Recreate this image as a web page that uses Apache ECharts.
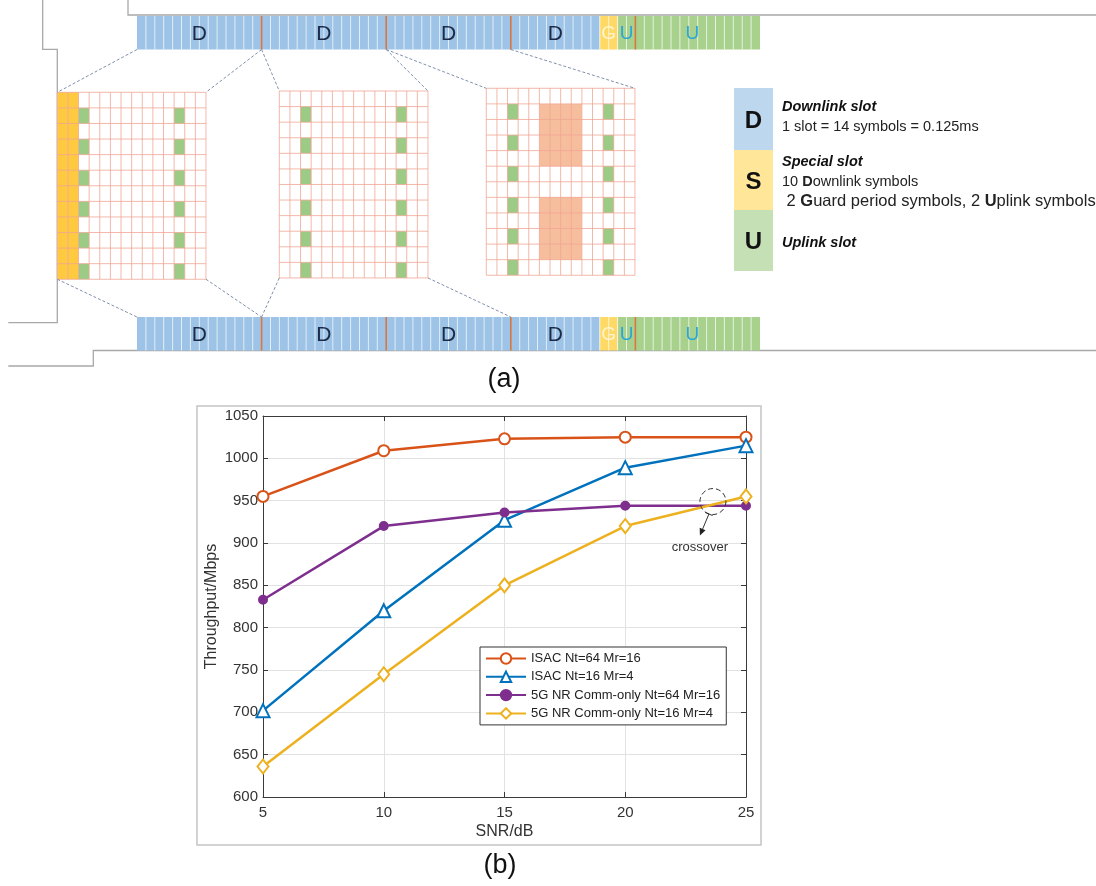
<!DOCTYPE html>
<html><head><meta charset="utf-8">
<script src="https://cdn.jsdelivr.net/npm/echarts@6/dist/echarts.min.js"></script>
<style>html,body{margin:0;padding:0;background:#fff}#c{width:1096px;height:886px}</style>
</head><body><div id="c"></div><script>
// ================= Panel (b) data =================
const snrDb        = [5, 10, 15, 20, 25];
const isacNt64Mr16 = [955, 1009, 1023, 1025, 1025];
const isacNt16Mr4  = [702, 820, 927, 989, 1015];
const nrNt64Mr16   = [833, 920, 936, 944, 944];
const nrNt16Mr4    = [636, 745, 850, 920, 955];
const seriesNames  = ['ISAC Nt=64 Mr=16', 'ISAC Nt=16 Mr=4', '5G NR Comm-only Nt=64 Mr=16', '5G NR Comm-only Nt=16 Mr=4'];
const xTickValues  = [5, 10, 15, 20, 25];
const yTickValues  = [600, 650, 700, 750, 800, 850, 900, 950, 1000, 1050];
const crossoverPoint = [23.63, 949];
const crossoverText  = 'crossover';
const xAxisName = 'SNR/dB';
const yAxisName = 'Throughput/Mbps';

// ================= Panel (a) data =================
const slotTypes          = ['D', 'D', 'D', 'S', 'U'];
const symbolsPerSlot     = 14;
const specialSlotSymbols = ['D','D','D','D','D','D','D','D','D','D','G','G','U','U'];
const gridRows           = 12;
const gridCols           = 14;
const controlCols        = [0, 1];
const dmrsCols           = [2, 11];
const dmrsRows           = [1, 3, 5, 7, 9, 11];
const sensingBlocks      = [[5, 8, 1, 4], [5, 8, 7, 10]];   // colFrom, colTo, rowFrom, rowTo
const gridContents       = [['control', 'dmrs'], ['dmrs'], ['dmrs', 'sensing']];
const topLinks           = [[0, 1], [1, 2], [2, 3]];          // slot boundaries linked to each grid's top corners
const bottomLinks        = [[0, 1], [1, 3], null];
const keyLetters         = ['D', 'S', 'U'];
const keyTitles          = ['Downlink slot', 'Special slot', 'Uplink slot'];
const keyLines           = [['1 slot = 14 symbols = 0.125ms'],
                            ['10 {b|D}ownlink symbols', ' 2 {b|G}uard period symbols, 2 {b|U}plink symbols'],
                            []];
const panelLabels        = ['(a)', '(b)'];

// ================= Layout & style (not data) =================
const FONT = "'Liberation Sans', Arial, Helvetica, sans-serif";
const L = {
  barX0: 137, slotW: 124.6, topBar: [16, 49.5], bottomBar: [317, 350.5],
  gridX: [57.3, 279.3, 486.3], gridY: [92.3, 91, 88.3], cellW: 10.62, cellH: 15.58,
  keyX: 734, keyW: 39, keyY: [88, 150, 210, 271], keyTextX: 782,
  keyTextY: [[107, 127], [162, 182, 201], [243]],
  keyLineFont: [[14.5], [14.5, 16.5], []],
  uLabelShift: -0.6,
  frame: [
    [[128, 0], [128, 15], [1096, 15]],
    [[42.7, 0], [42.7, 49.3], [57.3, 49.3], [57.3, 322.7], [8.3, 322.7]],
    [[1096, 350.5], [93.3, 350.5], [93.3, 366], [8.3, 366]]
  ]
};
const C = {
  barD: '#9DC3E6', barG: '#FFD966', barU: '#A9D18E', slotEdge: '#D9773F',
  letterD: '#1B2A47', letterG: '#FFF4CC', letterU: '#2BA6D6',
  control: '#FFC940', dmrs: '#9CCB86', sensing: '#F7BE9E', gridLine: '#F0A694',
  link: '#7F90AC', frame: '#A8A8A8',
  keyFill: ['#BDD7EE', '#FFE699', '#C5E0B4'],
  s: ['#D95319', '#0072BD', '#7E2F8E', '#EDB120']
};

// ================= helpers =================
function rectEl(api, x0, y0, x1, y1, style) {
  const p0 = api.coord([x0, y0]), p1 = api.coord([x1, y1]);
  return { type: 'rect', shape: { x: Math.min(p0[0], p1[0]), y: Math.min(p0[1], p1[1]),
    width: Math.abs(p1[0] - p0[0]), height: Math.abs(p1[1] - p0[1]) }, style: style };
}
function lineEl(api, x0, y0, x1, y1, style) {
  const p0 = api.coord([x0, y0]), p1 = api.coord([x1, y1]);
  return { type: 'line', shape: { x1: p0[0], y1: p0[1], x2: p1[0], y2: p1[1] }, style: style };
}
function textEl(api, x, y, text, style) {
  const p = api.coord([x, y]);
  return { type: 'text', x: p[0], y: p[1], style: Object.assign({ text: text }, style) };
}

// slot bars (top + bottom)
function renderSlot(params, api) {
  const i = api.value(0), b = api.value(1);
  const type = slotTypes[i];
  const syms = type === 'S' ? specialSlotSymbols : new Array(symbolsPerSlot).fill(type);
  const yr = b === 0 ? L.topBar : L.bottomBar;
  const x0 = L.barX0 + i * L.slotW, w = L.slotW / symbolsPerSlot;
  const fill = { D: C.barD, G: C.barG, U: C.barU };
  const letterColor = { D: C.letterD, G: C.letterG, U: C.letterU };
  const ch = [];
  let runs = [], start = 0;
  for (let j = 1; j <= syms.length; j++) {
    if (j === syms.length || syms[j] !== syms[start]) { runs.push([syms[start], start, j]); start = j; }
  }
  runs.forEach(r => ch.push(rectEl(api, x0 + r[1] * w, yr[0], x0 + r[2] * w, yr[1], { fill: fill[r[0]] })));
  for (let j = 1; j < syms.length; j++) {
    ch.push(lineEl(api, x0 + j * w, yr[0], x0 + j * w, yr[1], { stroke: 'rgba(255,255,255,0.7)', lineWidth: 1 }));
  }
  if (i > 0) ch.push(lineEl(api, x0, yr[0], x0, yr[1], { stroke: C.slotEdge, lineWidth: 1.6 }));
  runs.forEach(r => {
    let cx = (r[1] + r[2]) / 2;
    if (type === 'U') cx += L.uLabelShift;
    ch.push(textEl(api, x0 + cx * w, (yr[0] + yr[1]) / 2 + 1, r[0], {
      fill: letterColor[r[0]], fontSize: r[0] === 'D' ? 21 : 19, fontFamily: FONT,
      align: 'center', verticalAlign: 'middle' }));
  });
  return { type: 'group', children: ch };
}

// resource grids
function renderGrid(params, api) {
  const g = api.value(0);
  const x0 = L.gridX[g], y0 = L.gridY[g], cw = L.cellW, chh = L.cellH;
  const cell = (c1, r1, c2, r2, color) => rectEl(api, x0 + c1 * cw, y0 + r1 * chh, x0 + (c2 + 1) * cw, y0 + (r2 + 1) * chh, { fill: color });
  const ch = [cell(0, 0, gridCols - 1, gridRows - 1, '#FFFFFF')];
  const content = gridContents[g];
  if (content.indexOf('control') >= 0) controlCols.forEach(c => ch.push(cell(c, 0, c, gridRows - 1, C.control)));
  if (content.indexOf('dmrs') >= 0) dmrsCols.forEach(c => dmrsRows.forEach(r => ch.push(cell(c, r, c, r, C.dmrs))));
  if (content.indexOf('sensing') >= 0) sensingBlocks.forEach(s => ch.push(cell(s[0], s[2], s[1], s[3], C.sensing)));
  for (let c = 0; c <= gridCols; c++) ch.push(lineEl(api, x0 + c * cw, y0, x0 + c * cw, y0 + gridRows * chh, { stroke: C.gridLine, lineWidth: 0.8 }));
  for (let r = 0; r <= gridRows; r++) ch.push(lineEl(api, x0, y0 + r * chh, x0 + gridCols * cw, y0 + r * chh, { stroke: C.gridLine, lineWidth: 0.8 }));
  return { type: 'group', children: ch };
}

// dashed links between bars and grids
function renderLinks(params, api) {
  const g = api.value(0);
  const x0 = L.gridX[g], y0 = L.gridY[g];
  const x1 = x0 + gridCols * L.cellW, y1 = y0 + gridRows * L.cellH;
  const st = { stroke: C.link, lineWidth: 1, lineDash: [3, 2] };
  const ch = [];
  const t = topLinks[g], b = bottomLinks[g];
  if (t) {
    ch.push(lineEl(api, L.barX0 + t[0] * L.slotW, L.topBar[1], x0, y0, st));
    ch.push(lineEl(api, L.barX0 + t[1] * L.slotW, L.topBar[1], x1, y0, st));
  }
  if (b) {
    ch.push(lineEl(api, x0, y1, L.barX0 + b[0] * L.slotW, L.bottomBar[0], st));
    ch.push(lineEl(api, x1, y1, L.barX0 + b[1] * L.slotW, L.bottomBar[0], st));
  }
  return { type: 'group', children: ch };
}

// slot-type key
function renderKey(params, api) {
  const k = api.value(0);
  const ch = [rectEl(api, L.keyX, L.keyY[k], L.keyX + L.keyW, L.keyY[k + 1], { fill: C.keyFill[k] })];
  ch.push(textEl(api, L.keyX + L.keyW / 2, (L.keyY[k] + L.keyY[k + 1]) / 2 + 2, keyLetters[k], {
    fill: '#111', fontSize: 24, fontWeight: 'bold', fontFamily: FONT, align: 'center', verticalAlign: 'middle' }));
  const ys = L.keyTextY[k];
  ch.push(textEl(api, L.keyTextX, ys[0], keyTitles[k], {
    fill: '#111', fontSize: 14.5, fontWeight: 'bold', fontStyle: 'italic', fontFamily: FONT, align: 'left', verticalAlign: 'middle' }));
  keyLines[k].forEach((s, n) => {
    const fs = L.keyLineFont[k][n];
    ch.push(textEl(api, L.keyTextX, ys[n + 1], s, {
      fill: '#222', fontSize: fs, fontFamily: FONT, align: 'left', verticalAlign: 'middle',
      rich: { b: { fontWeight: 'bold', fontSize: fs, fontFamily: FONT, fill: '#222' } } }));
  });
  return { type: 'group', children: ch };
}

// page frame lines of panel (a)
function renderFrame(params, api) {
  const pts = L.frame[api.value(0)].map(p => api.coord(p));
  return { type: 'polyline', shape: { points: pts }, style: { stroke: C.frame, lineWidth: 1.3, fill: null } };
}

// crossover annotation
function renderCrossover(params, api) {
  const c = api.coord([api.value(0), api.value(1)]);
  const ax = c[0] - 4, ay = c[1] + 12.5, bx = c[0] - 13, by = c[1] + 34;
  const dx = bx - ax, dy = by - ay, len = Math.sqrt(dx * dx + dy * dy), ux = dx / len, uy = dy / len;
  const hl = 7, hw = 3.2;
  return { type: 'group', children: [
    { type: 'circle', shape: { cx: c[0], cy: c[1], r: 13 }, style: { fill: 'rgba(0,0,0,0)', stroke: '#333', lineWidth: 1, lineDash: [5, 3] } },
    { type: 'line', shape: { x1: ax, y1: ay, x2: bx - ux * hl, y2: by - uy * hl }, style: { stroke: '#333', lineWidth: 1 } },
    { type: 'line', shape: { x1: ax - uy * 4, y1: ay + ux * 4, x2: ax + uy * 4, y2: ay - ux * 4 }, style: { stroke: '#333', lineWidth: 1 } },
    { type: 'polygon', shape: { points: [[bx, by], [bx - ux * hl - uy * hw, by - uy * hl + ux * hw], [bx - ux * hl + uy * hw, by - uy * hl - ux * hw]] }, style: { fill: '#222' } },
    { type: 'text', x: c[0] - 13, y: c[1] + 46, style: { text: crossoverText, fill: '#333', fontSize: 13, fontFamily: FONT, align: 'center', verticalAlign: 'middle' } }
  ] };
}

const axisColor = '#3a3a3a';
const lineSeries = [isacNt64Mr16, isacNt16Mr4, nrNt64Mr16, nrNt16Mr4];
const symbols = ['emptyCircle', 'emptyTriangle', 'circle', 'emptyDiamond'];
const symbolSizes = [11, 13, 8, [11, 14]];

const chart = echarts.init(document.getElementById('c'), null, { renderer: 'canvas' });
chart.setOption({
  animation: false,
  backgroundColor: '#fff',
  textStyle: { fontFamily: FONT },
  grid: [
    { left: 263, top: 416, width: 483, height: 381, containLabel: false },
    { left: 0, top: 0, width: 1096, height: 370, containLabel: false }
  ],
  xAxis: [
    { gridIndex: 0, type: 'value', min: xTickValues[0], max: xTickValues[xTickValues.length - 1], interval: xTickValues[1] - xTickValues[0],
      name: xAxisName, nameLocation: 'middle', nameGap: 27,
      nameTextStyle: { fontSize: 16, color: '#333', fontFamily: FONT },
      axisLine: { show: true, onZero: false, lineStyle: { color: axisColor, width: 1 } },
      axisTick: { show: true, inside: true, length: 5, lineStyle: { color: axisColor } },
      axisLabel: { margin: 8, fontSize: 15, color: '#333', fontFamily: FONT, formatter: v => String(v) },
      splitLine: { show: true, lineStyle: { color: '#E2E2E2', width: 1 } } },
    { gridIndex: 0, type: 'value', position: 'top', min: xTickValues[0], max: xTickValues[xTickValues.length - 1], interval: xTickValues[1] - xTickValues[0],
      axisLine: { show: true, onZero: false, lineStyle: { color: axisColor, width: 1 } },
      axisTick: { show: true, inside: true, length: 5, lineStyle: { color: axisColor } },
      axisLabel: { show: false }, splitLine: { show: false } },
    { gridIndex: 1, type: 'value', min: 0, max: 1096, show: false }
  ],
  yAxis: [
    { gridIndex: 0, type: 'value', min: yTickValues[0], max: yTickValues[yTickValues.length - 1], interval: yTickValues[1] - yTickValues[0],
      name: yAxisName, nameLocation: 'middle', nameGap: 43, nameRotate: 90,
      nameTextStyle: { fontSize: 16, color: '#333', fontFamily: FONT },
      axisLine: { show: true, onZero: false, lineStyle: { color: axisColor, width: 1 } },
      axisTick: { show: true, inside: true, length: 5, lineStyle: { color: axisColor } },
      axisLabel: { margin: 5, fontSize: 15, color: '#333', fontFamily: FONT, formatter: v => String(v) },
      splitLine: { show: true, lineStyle: { color: '#E2E2E2', width: 1 } } },
    { gridIndex: 0, type: 'value', position: 'right', min: yTickValues[0], max: yTickValues[yTickValues.length - 1], interval: yTickValues[1] - yTickValues[0],
      axisLine: { show: true, onZero: false, lineStyle: { color: axisColor, width: 1 } },
      axisTick: { show: true, inside: true, length: 5, lineStyle: { color: axisColor } },
      axisLabel: { show: false }, splitLine: { show: false } },
    { gridIndex: 1, type: 'value', min: 0, max: 370, inverse: true, show: false }
  ],
  legend: {
    data: seriesNames, orient: 'vertical', left: 480, top: 647,
    padding: [5, 6, 5, 5], itemGap: 5.3, itemWidth: 40, itemHeight: 13,
    backgroundColor: '#fff', borderColor: '#333', borderWidth: 1, borderRadius: 0,
    textStyle: { fontSize: 13, color: '#222', fontFamily: FONT },
    selectedMode: false
  },
  graphic: [
    { type: 'rect', z: -10, shape: { x: 197, y: 406, width: 564, height: 439 }, style: { fill: 'rgba(0,0,0,0)', stroke: '#C4C4C4', lineWidth: 1.5 } },
    { type: 'text', x: 504, y: 380, style: { text: panelLabels[0], fontSize: 27, fontFamily: FONT, fill: '#111', align: 'center', verticalAlign: 'middle' } },
    { type: 'text', x: 500, y: 866, style: { text: panelLabels[1], fontSize: 27, fontFamily: FONT, fill: '#111', align: 'center', verticalAlign: 'middle' } }
  ],
  series: lineSeries.map((vals, k) => ({
    name: seriesNames[k], type: 'line', xAxisIndex: 0, yAxisIndex: 0,
    data: snrDb.map((x, i) => [x, vals[i]]),
    symbol: symbols[k], symbolSize: symbolSizes[k], showAllSymbol: true,
    lineStyle: { width: 2.5, color: C.s[k] },
    itemStyle: { color: C.s[k], borderColor: C.s[k], borderWidth: 2 },
    emphasis: { disabled: true }, silent: true, z: 3 + k
  })).concat([
    { type: 'custom', name: 'crossoverNote', xAxisIndex: 0, yAxisIndex: 0, data: [crossoverPoint], renderItem: renderCrossover, silent: true, z: 20 },
    { type: 'custom', name: 'frame', xAxisIndex: 2, yAxisIndex: 2, data: L.frame.map((f, i) => [i, 0]), renderItem: renderFrame, silent: true, z: 1 },
    { type: 'custom', name: 'slots', xAxisIndex: 2, yAxisIndex: 2,
      data: [0, 1].reduce((a, b) => a.concat(slotTypes.map((s, i) => [i, b])), []), renderItem: renderSlot, silent: true, z: 2 },
    { type: 'custom', name: 'grids', xAxisIndex: 2, yAxisIndex: 2, data: gridContents.map((g, i) => [i, 0]), renderItem: renderGrid, silent: true, z: 2 },
    { type: 'custom', name: 'links', xAxisIndex: 2, yAxisIndex: 2, data: gridContents.map((g, i) => [i, 0]), renderItem: renderLinks, silent: true, z: 3 },
    { type: 'custom', name: 'key', xAxisIndex: 2, yAxisIndex: 2, data: keyLetters.map((k, i) => [i, 0]), renderItem: renderKey, silent: true, z: 2 }
  ])
});
</script></body></html>
